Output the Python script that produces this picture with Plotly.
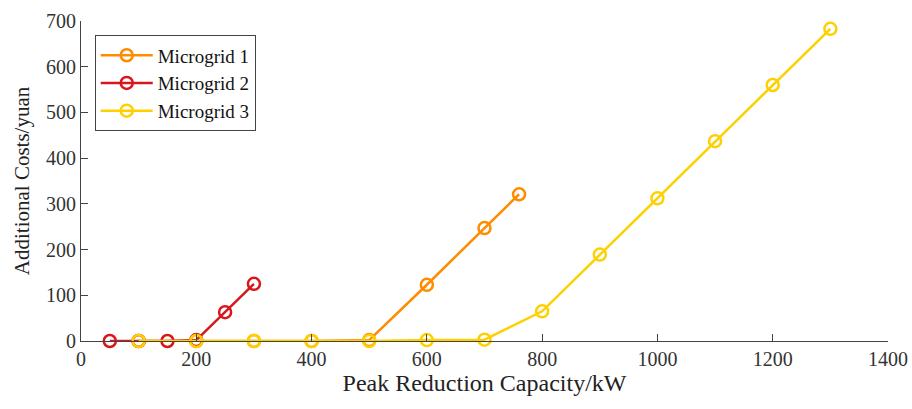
import plotly.graph_objects as go

mg1_x = [100, 200, 300, 400, 500, 600, 700, 760]
mg1_y = [0, 0, 0, 0, 2, 123, 247, 321]
mg2_x = [50, 100, 150, 200, 250, 300]
mg2_y = [0, 0, 0, 2, 63, 125]
mg3_x = [100, 200, 300, 400, 500, 600, 700, 800, 900, 1000, 1100, 1200, 1300]
mg3_y = [0, 0, 0, 0, 0, 2, 3, 65, 189, 312, 437, 560, 683]

series = [("Microgrid 1", mg1_x, mg1_y, "rgb(255,140,0)"),
          ("Microgrid 2", mg2_x, mg2_y, "rgb(214,24,28)"),
          ("Microgrid 3", mg3_x, mg3_y, "rgb(255,208,0)")]

fig = go.Figure()
for name, x, y, c in series:
    fig.add_trace(go.Scatter(x=x, y=y, name=name, mode="lines+markers",
                             cliponaxis=False,
                             line=dict(color=c, width=2.5),
                             marker=dict(symbol="circle-open", size=12, color=c,
                                         line=dict(width=2.5, color=c))))

font = "Liberation Serif, Times New Roman, serif"
fig.update_layout(
    width=912, height=409,
    margin=dict(l=81, r=24, t=21, b=68),
    paper_bgcolor="white", plot_bgcolor="white",
    font=dict(family=font, size=20, color="#333"),
    legend=dict(x=0.017, y=0.955, xanchor="left", yanchor="top",
                bordercolor="#444", borderwidth=1, bgcolor="white",
                font=dict(size=19, color="#111"), tracegroupgap=0,
                itemwidth=52),
    xaxis=dict(range=[0, 1400], tickvals=[0, 200, 400, 600, 800, 1000, 1200, 1400],
               ticks="inside", ticklen=7, tickcolor="#444", showgrid=False,
               zeroline=False, showline=True, linecolor="#444", linewidth=1,
               automargin=False,
               title=dict(text="Peak Reduction Capacity/kW", font=dict(size=24, color="#222"),
                          standoff=4)),
    yaxis=dict(range=[0, 700], tickvals=[0, 100, 200, 300, 400, 500, 600, 700],
               ticks="inside", ticklen=7, tickcolor="#444", showgrid=False,
               zeroline=False, showline=True, linecolor="#444", linewidth=1,
               automargin=False,
               title=dict(text="Additional Costs/yuan", font=dict(size=21, color="#222"),
                          standoff=10)),
)
fig.write_html("out.html", config={"displayModeBar": False},
               post_script="document.body.style.margin='0';")
